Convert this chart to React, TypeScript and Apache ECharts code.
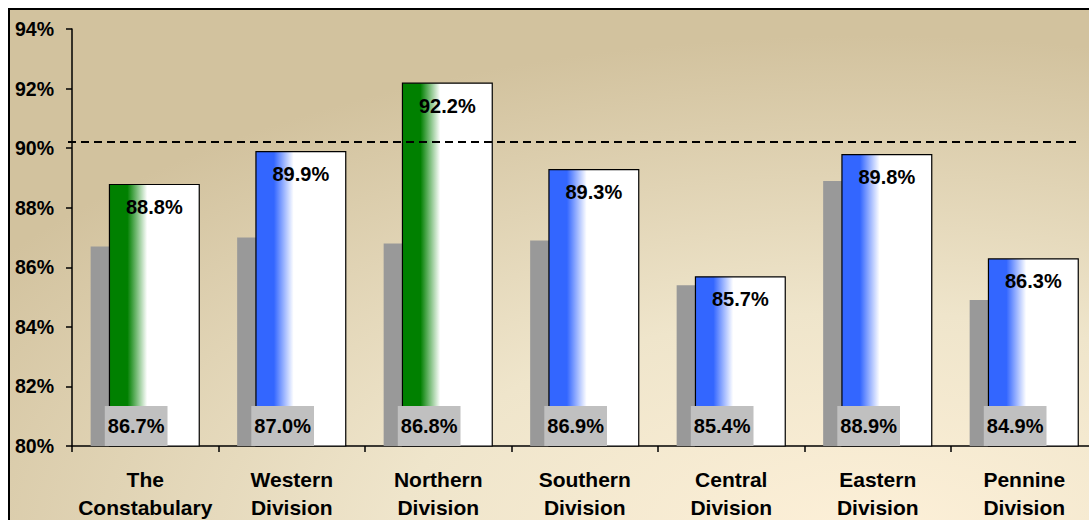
import React, { useEffect, useRef } from "react";
import * as echarts from "echarts";

const categories = [
  "The\nConstabulary",
  "Western\nDivision",
  "Northern\nDivision",
  "Southern\nDivision",
  "Central\nDivision",
  "Eastern\nDivision",
  "Pennine\nDivision",
];
const currentValues = [88.8, 89.9, 92.2, 89.3, 85.7, 89.8, 86.3];
const previousValues = [86.7, 87.0, 86.8, 86.9, 85.4, 88.9, 84.9];
const barColors = ["#008000", "#3366ff", "#008000", "#3366ff", "#3366ff", "#3366ff", "#3366ff"];
const targetValue = 90.2;
const yTicks = { min: 80, max: 94, interval: 2 };

const FONT = "Liberation Sans, Arial, sans-serif";

export default function App() {
  const ref = useRef<HTMLDivElement>(null);
  useEffect(() => {
    document.body.style.margin = "0";
    document.body.style.overflow = "hidden";
    const chart = echarts.init(ref.current!, undefined, { renderer: "svg" });
    const fade = (c: string) =>
      new echarts.graphic.LinearGradient(0, 0, 1, 0, [
        { offset: 0, color: c },
        { offset: 0.2, color: c },
        { offset: 0.42, color: "#ffffff" },
        { offset: 1, color: "#ffffff" },
      ]);
    chart.setOption({
      animation: false,
      backgroundColor: "#ffffff",
      graphic: [
        {
          type: "rect",
          z: -100,
          shape: { x: 9, y: 9, width: 1100, height: 530 },
          style: {
            fill: new echarts.graphic.RadialGradient(0.78, 1.0, 0.95, [
              { offset: 0, color: "#fdf0d8" },
              { offset: 0.45, color: "#efe5cb" },
              { offset: 1, color: "#d2c29e" },
            ]),
            stroke: "#000000",
            lineWidth: 2,
          },
        },
      ],
      grid: { left: 72, top: 29, width: 1025.5, height: 417, outerBoundsMode: "none", containLabel: false },
      xAxis: {
        type: "category",
        data: categories,
        axisLine: { show: true, lineStyle: { color: "#000", width: 1.5 } },
        axisTick: { show: true, length: 6, lineStyle: { color: "#000", width: 1.5 } },
        axisLabel: {
          interval: 0,
          margin: 19,
          color: "#000",
          fontFamily: FONT,
          fontWeight: "bold",
          fontSize: 21,
          lineHeight: 28,
        },
      },
      yAxis: {
        type: "value",
        min: yTicks.min,
        max: yTicks.max,
        interval: yTicks.interval,
        axisLine: { show: true, lineStyle: { color: "#000", width: 1.5 } },
        axisTick: { show: true, length: 6, lineStyle: { color: "#000", width: 1.5 } },
        splitLine: { show: false },
        axisLabel: {
          margin: 18,
          color: "#000",
          fontFamily: FONT,
          fontWeight: "bold",
          fontSize: 19.5,
          formatter: "{value}%",
        },
      },
      series: [
        {
          type: "bar",
          data: previousValues,
          barWidth: 91,
          barGap: "-80%",
          itemStyle: { color: "#999999" },
          label: {
            show: true,
            position: "insideBottom",
            distance: 0,
            formatter: (p: any) => p.value.toFixed(1) + "%",
            color: "#000",
            fontFamily: FONT,
            fontWeight: "bold",
            fontSize: 20,
            lineHeight: 20,
            backgroundColor: "#c0c0c0",
            padding: [10, 3, 10, 3],
          },
        },
        {
          type: "bar",
          data: currentValues.map((v, i) => ({
            value: v,
            itemStyle: { color: fade(barColors[i]) },
          })),
          barWidth: 91,
          barGap: "-80%",
          itemStyle: { borderColor: "#000", borderWidth: 1.2 },
          label: {
            show: true,
            position: "insideTop",
            distance: 13,
            formatter: (p: any) => p.value.toFixed(1) + "%",
            color: "#000",
            fontFamily: FONT,
            fontWeight: "bold",
            fontSize: 20,
          },
          markLine: {
            silent: true,
            symbol: "none",
            label: { show: false },
            lineStyle: { color: "#000", type: [8, 5], width: 2 },
            data: [
              [
                { xAxis: 0, yAxis: targetValue, x: 68 },
                { xAxis: 6, yAxis: targetValue, x: 1076 },
              ],
            ],
          },
        },
      ],
    });
    return () => chart.dispose();
  }, []);
  return <div ref={ref} style={{ width: 1089, height: 520 }} />;
}
